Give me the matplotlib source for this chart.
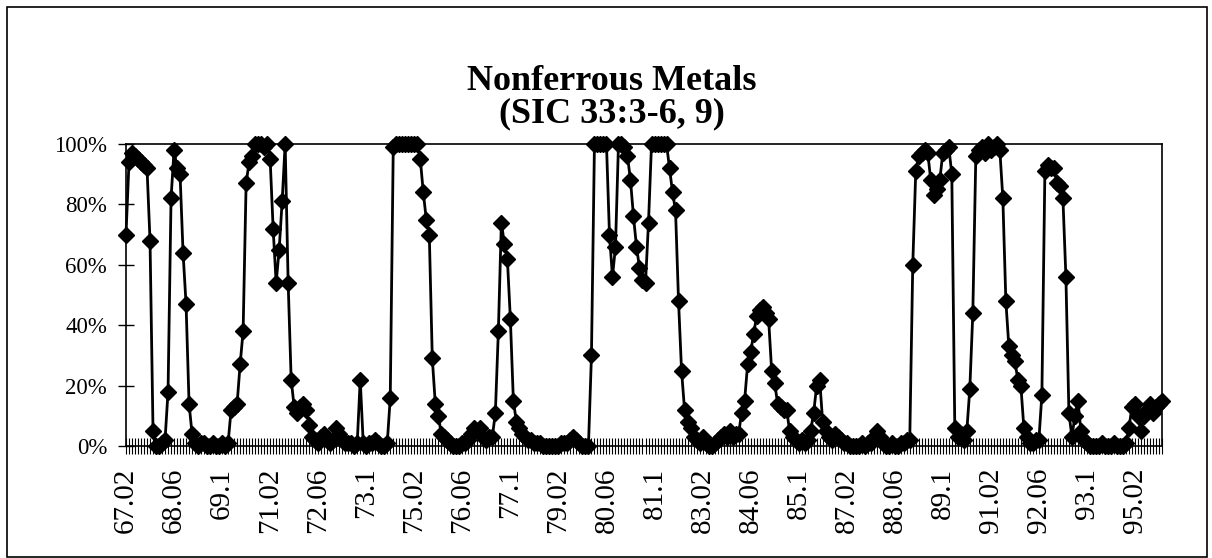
import numpy as np
import matplotlib
matplotlib.use("Agg")
import matplotlib.pyplot as plt
from matplotlib.patches import Rectangle

plt.rcParams['font.family'] = ['Liberation Serif', 'DejaVu Serif']

# monthly share (%), 67.02 onwards
share_pct = [
    70, 94, 97, 96, 95, 94, 93, 92, 68, 5,
    0, 0, 1, 2, 18, 82, 98, 92, 90, 64,
    47, 14, 4, 1, 0, 1, 1, 0, 0, 1,
    0, 0, 1, 0, 1, 12, 13, 14, 27, 38,
    87, 94, 96, 100, 100, 100, 99, 100, 95, 72,
    54, 65, 81, 100, 54, 22, 13, 11, 13, 14,
    12, 7, 3, 2, 1, 3, 4, 2, 1, 2,
    6, 4, 2, 1, 1, 1, 0, 1, 22, 1,
    0, 1, 1, 2, 1, 0, 0, 1, 16, 99,
    100, 100, 100, 100, 100, 100, 100, 100, 95, 84,
    75, 70, 29, 14, 10, 4, 3, 2, 1, 0,
    0, 0, 1, 1, 2, 4, 6, 5, 6, 3,
    2, 3, 3, 11, 38, 74, 67, 62, 42, 15,
    8, 6, 4, 3, 2, 2, 1, 1, 1, 0,
    0, 0, 0, 0, 0, 1, 1, 1, 2, 3,
    2, 1, 0, 0, 0, 30, 100, 100, 100, 100,
    100, 70, 56, 66, 100, 100, 99, 96, 88, 76,
    66, 59, 55, 54, 74, 100, 100, 100, 100, 100,
    100, 92, 84, 78, 48, 25, 12, 8, 6, 3,
    2, 1, 3, 1, 0, 0, 1, 2, 3, 4,
    3, 5, 3, 4, 4, 11, 15, 27, 31, 37,
    43, 45, 46, 44, 42, 25, 21, 14, 13, 12,
    12, 5, 3, 2, 1, 2, 1, 2, 5, 11,
    20, 22, 8, 5, 3, 2, 4, 3, 2, 1,
    1, 0, 0, 0, 0, 1, 0, 1, 1, 3,
    5, 3, 1, 0, 0, 1, 0, 0, 1, 1,
    2, 2, 60, 91, 96, 97, 98, 97, 88, 83,
    85, 88, 97, 98, 99, 90, 6, 3, 4, 2,
    5, 19, 44, 96, 98, 99, 97, 100, 98, 99,
    100, 98, 82, 48, 33, 30, 28, 22, 20, 6,
    3, 1, 1, 2, 2, 17, 91, 93, 92, 92,
    87, 86, 82, 56, 11, 3, 10, 15, 5, 2,
    1, 0, 0, 0, 0, 1, 0, 0, 0, 1,
    0, 0, 0, 1, 6, 13, 14, 10, 5, 10,
    12, 14, 11, 13, 14, 15,
]

tick_labels = ["67.02", "68.06", "69.1", "71.02", "72.06", "73.1", "75.02",
               "76.06", "77.1", "79.02", "80.06", "81.1", "83.02", "84.06",
               "85.1", "87.02", "88.06", "89.1", "91.02", "92.06", "93.1",
               "95.02"]
label_step = 16

y_ticks = [0, 0.2, 0.4, 0.6, 0.8, 1.0]
y_labels = ["0%", "20%", "40%", "60%", "80%", "100%"]

W, H = 1212, 558
fig = plt.figure(figsize=(W / 100, H / 100), dpi=100)
ax = fig.add_axes([126 / W, 1 - 446 / H, (1162 - 126) / W, (446 - 144) / H])

x = np.arange(len(share_pct))
ax.plot(x, np.array(share_pct) / 100, color='black', lw=2.0,
        marker='D', ms=8, mfc='black', mec='black', clip_on=False, zorder=3)

ax.set_xlim(0, len(share_pct) - 1)
ax.set_ylim(0, 1)

ax.set_xticks(x[::label_step])
ax.set_xticklabels(tick_labels, rotation=90, fontsize=21)
ax.set_xticks(x, minor=True)
ax.tick_params(axis='x', which='both', direction='inout', length=11,
               width=0.8, pad=10)

ax.set_yticks(y_ticks)
ax.set_yticklabels(y_labels, fontsize=16.5)
ax.tick_params(axis='y', direction='inout', length=11, width=1.0, pad=8)

for s in ax.spines.values():
    s.set_linewidth(1.2)

# title, two lines
fig.text(612 / W, 1 - 90 / H, "Nonferrous Metals", ha='center',
         va='baseline', fontsize=26, fontweight='bold')
fig.text(612 / W, 1 - 122 / H, "(SIC 33:3-6, 9)", ha='center',
         va='baseline', fontsize=26, fontweight='bold')

# outer chart border
fig.add_artist(Rectangle((7 / W, 0.002), 1200 / W, 1 - 7 / H - 0.002,
                         transform=fig.transFigure, fill=False,
                         lw=1.2, ec='black'))

fig.savefig("out.png", dpi=100)
